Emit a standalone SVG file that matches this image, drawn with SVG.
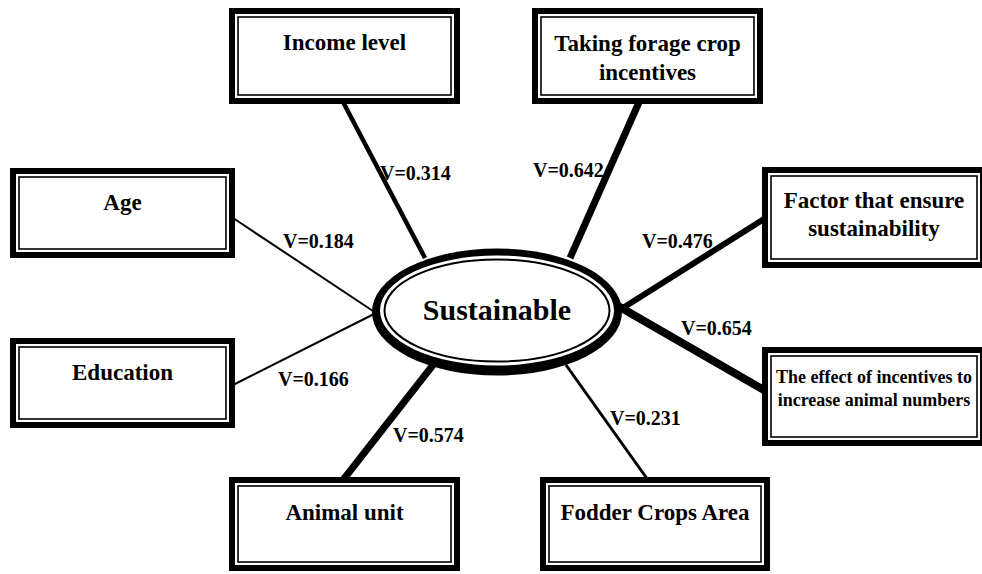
<svg xmlns="http://www.w3.org/2000/svg" width="982" height="574" viewBox="0 0 982 574">
<style>
.ob{fill:#fff;stroke:#000;stroke-width:6}
.ib{fill:none;stroke:#000;stroke-width:1.6}
.t{font-family:"Liberation Serif","Times New Roman",serif;font-weight:bold;fill:#000;text-anchor:middle;font-size:23px}
.ts{font-size:18px}
.lb{font-family:"Liberation Serif","Times New Roman",serif;font-weight:bold;fill:#000;font-size:20px}
.c{stroke:#000;fill:none;stroke-linecap:butt}
</style>
<rect width="982" height="574" fill="#fff"/>
<g id="connectors">
<line class="c" x1="342" y1="100" x2="425" y2="258" stroke-width="4.5"/>
<line class="c" x1="640" y1="100" x2="570" y2="258" stroke-width="7"/>
<line class="c" x1="233" y1="218" x2="376" y2="313" stroke-width="2"/>
<line class="c" x1="233" y1="385" x2="376" y2="313" stroke-width="2"/>
<line class="c" x1="764" y1="219" x2="618" y2="311" stroke-width="6"/>
<line class="c" x1="764" y1="390" x2="618" y2="306" stroke-width="8"/>
<line class="c" x1="343" y1="480" x2="433" y2="365" stroke-width="7"/>
<line class="c" x1="648" y1="480" x2="566" y2="365" stroke-width="3"/>
<text class="lb" x="380" y="180">V=0.314</text>
<text class="lb" x="533" y="177">V=0.642</text>
<text class="lb" x="283" y="248">V=0.184</text>
<text class="lb" x="278" y="386">V=0.166</text>
<text class="lb" x="393" y="442">V=0.574</text>
<text class="lb" x="610" y="425">V=0.231</text>
<text class="lb" x="681" y="335">V=0.654</text>
<text class="lb" x="642" y="248">V=0.476</text>
</g>
<g id="income">
<rect class="ob" x="232" y="11" width="225" height="90"/>
<rect class="ib" x="238" y="17" width="213" height="78"/>
<text class="t" x="344.5" y="50">Income level</text>
</g>
<g id="taking">
<rect class="ob" x="535" y="11" width="225" height="90"/>
<rect class="ib" x="541" y="17" width="213" height="78"/>
<text class="t" x="647.5" y="51">Taking forage crop</text>
<text class="t" x="647.5" y="80">incentives</text>
</g>
<g id="age">
<rect class="ob" x="13" y="171" width="219" height="84"/>
<rect class="ib" x="19" y="177" width="207" height="72"/>
<text class="t" x="122.5" y="210">Age</text>
</g>
<g id="education">
<rect class="ob" x="13" y="341" width="219" height="84"/>
<rect class="ib" x="19" y="347" width="207" height="72"/>
<text class="t" x="122.5" y="380">Education</text>
</g>
<g id="factor">
<rect class="ob" x="765" y="170" width="218" height="95"/>
<rect class="ib" x="771" y="176" width="206" height="83"/>
<text class="t" x="874" y="208">Factor that ensure</text>
<text class="t" x="874" y="236">sustainability</text>
</g>
<g id="effect">
<rect class="ob" x="765" y="350" width="218" height="93"/>
<rect class="ib" x="771" y="356" width="206" height="81"/>
<text class="t ts" x="874" y="383">The effect of incentives to</text>
<text class="t ts" x="874" y="406">increase animal numbers</text>
</g>
<g id="animal">
<rect class="ob" x="232" y="480" width="225" height="88"/>
<rect class="ib" x="238" y="486" width="213" height="76"/>
<text class="t" x="344.5" y="520">Animal unit</text>
</g>
<g id="fodder">
<rect class="ob" x="543" y="480" width="224" height="88"/>
<rect class="ib" x="549" y="486" width="212" height="76"/>
<text class="t" x="655" y="520">Fodder Crops Area</text>
</g>
<g id="sustainable">
<ellipse cx="497" cy="312" rx="125" ry="63.5" fill="#000"/>
<ellipse cx="497" cy="310.5" rx="117" ry="55" fill="#fff"/>
<ellipse cx="497" cy="310.5" rx="112.5" ry="51" fill="none" stroke="#000" stroke-width="2"/>
<text class="t" x="497" y="320" style="font-size:30px">Sustainable</text>
</g>
</svg>
